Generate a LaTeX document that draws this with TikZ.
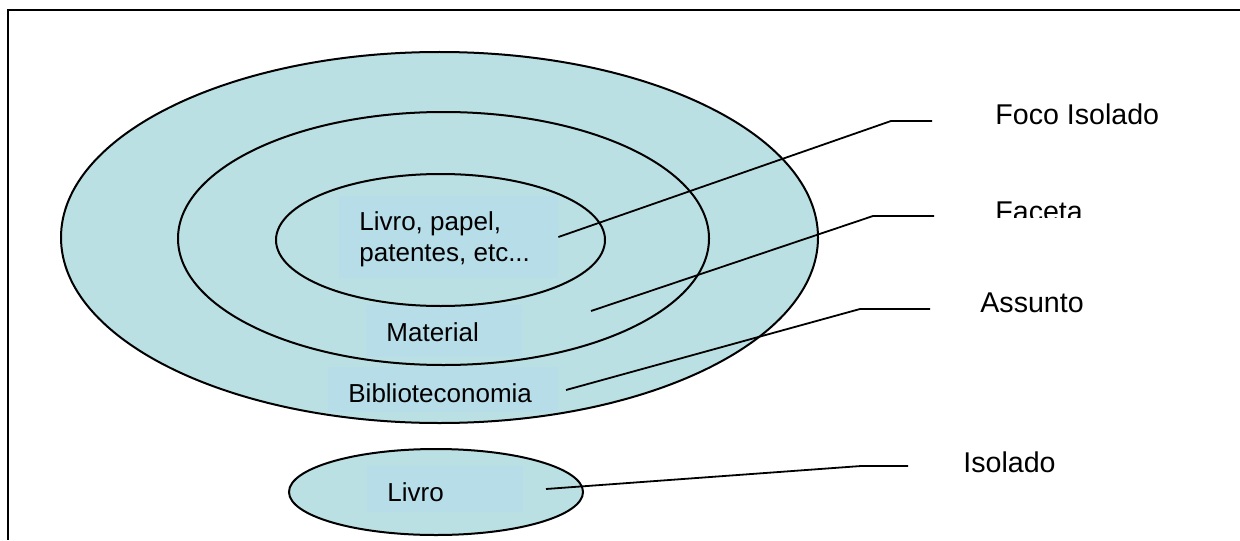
\documentclass[tikz,border=0pt]{standalone}
\usepackage{fontspec}
\setmainfont{Liberation Sans}
\usetikzlibrary{shapes.geometric}
\definecolor{ringfill}{RGB}{187,224,227}
\definecolor{tagfill}{RGB}{182,221,232}

\begin{document}
\begin{tikzpicture}[x=0.5pt,y=-0.5pt,
  ring/.style={ellipse,fill=ringfill,inner sep=0pt},
  rim/.style={ellipse,draw,line width=1pt,inner sep=0pt},
  tag/.style={rectangle,fill=tagfill,inner sep=0pt},
  word/.style={font=\fontsize{13}{15.5}\selectfont,anchor=base west,inner sep=0pt},
  caption/.style={font=\fontsize{14.3}{17}\selectfont,anchor=base west,inner sep=0pt},
  leader/.style={line width=0.9pt}]

\useasboundingbox (0,0) rectangle (1240,540);
\fill[white] (0,0) rectangle (1240,540);
% page frame
\draw[line width=1.1pt] (1240,10) -- (8,10) -- (8,540);

% nested facets: fills first
\node[ring,minimum width=378.5pt,minimum height=185.5pt] (outer) at (439.5,237.5) {};
\node[ring,minimum width=265.5pt,minimum height=126.5pt] (middle) at (443.5,238.5) {};
\node[ring,minimum width=164.5pt,minimum height=66pt] (inner) at (440.5,240) {};
\node[ring,minimum width=147pt,minimum height=43pt] (single) at (436,492) {};

% text backgrounds
\node[tag,minimum width=109.5pt,minimum height=41pt] (tag1) at (448.5,237) {};
\node[tag,minimum width=78pt,minimum height=26pt] (tag2) at (444,331) {};
\node[tag,minimum width=115pt,minimum height=22.5pt] (tag3) at (442.5,389.5) {};
\node[tag,minimum width=78pt,minimum height=23pt] (tag4) at (445,489) {};

% outlines on top of the backgrounds
\node[rim,minimum width=378.5pt,minimum height=185.5pt] (outerrim) at (outer.center) {};
\node[rim,minimum width=265.5pt,minimum height=126.5pt] (middlerim) at (middle.center) {};
\node[rim,minimum width=164.5pt,minimum height=66pt] (innerrim) at (inner.center) {};
\node[rim,minimum width=147pt,minimum height=43pt] (singlerim) at (single.center) {};

% texts inside the ellipses
\node[word] (t1) at (359,230) {Livro, papel,};
\node[word] (t2) at (359,261) {patentes, etc...};
\node[word] (t3) at (386,341) {Material};
\node[word] (t4) at (348,402) {Biblioteconomia};
\node[word] (t5) at (387,501) {Livro};

% captions on the right
\node[caption] (l1) at (995,125) {Foco Isolado};
\begin{scope}
  \clip (980,180) rectangle (1110,217);
  \node[caption] (l2) at (995,221) {Faceta};
\end{scope}
\node[caption] (l3) at (980,312) {Assunto};
\node[caption] (l4) at (963,472) {Isolado};

% leader lines
\coordinate (a1) at (891,121);
\coordinate (a2) at (932,121);
\coordinate (b0) at (591,311);
\coordinate (b1) at (873,216);
\coordinate (b2) at (934,216);
\coordinate (c0) at (566,390);
\coordinate (c1) at (860,309);
\coordinate (c2) at (930,309);
\coordinate (d0) at (546,489);
\coordinate (d1) at (861,466);
\coordinate (d2) at (908,466);

\draw[leader] (tag1.east) -- (a1) -- (a2);
\draw[leader] (b0) -- (b1) -- (b2);
\draw[leader] (c0) -- (c1) -- (c2);
\draw[leader] (d0) -- (d1) -- (d2);
\end{tikzpicture}
\end{document}
